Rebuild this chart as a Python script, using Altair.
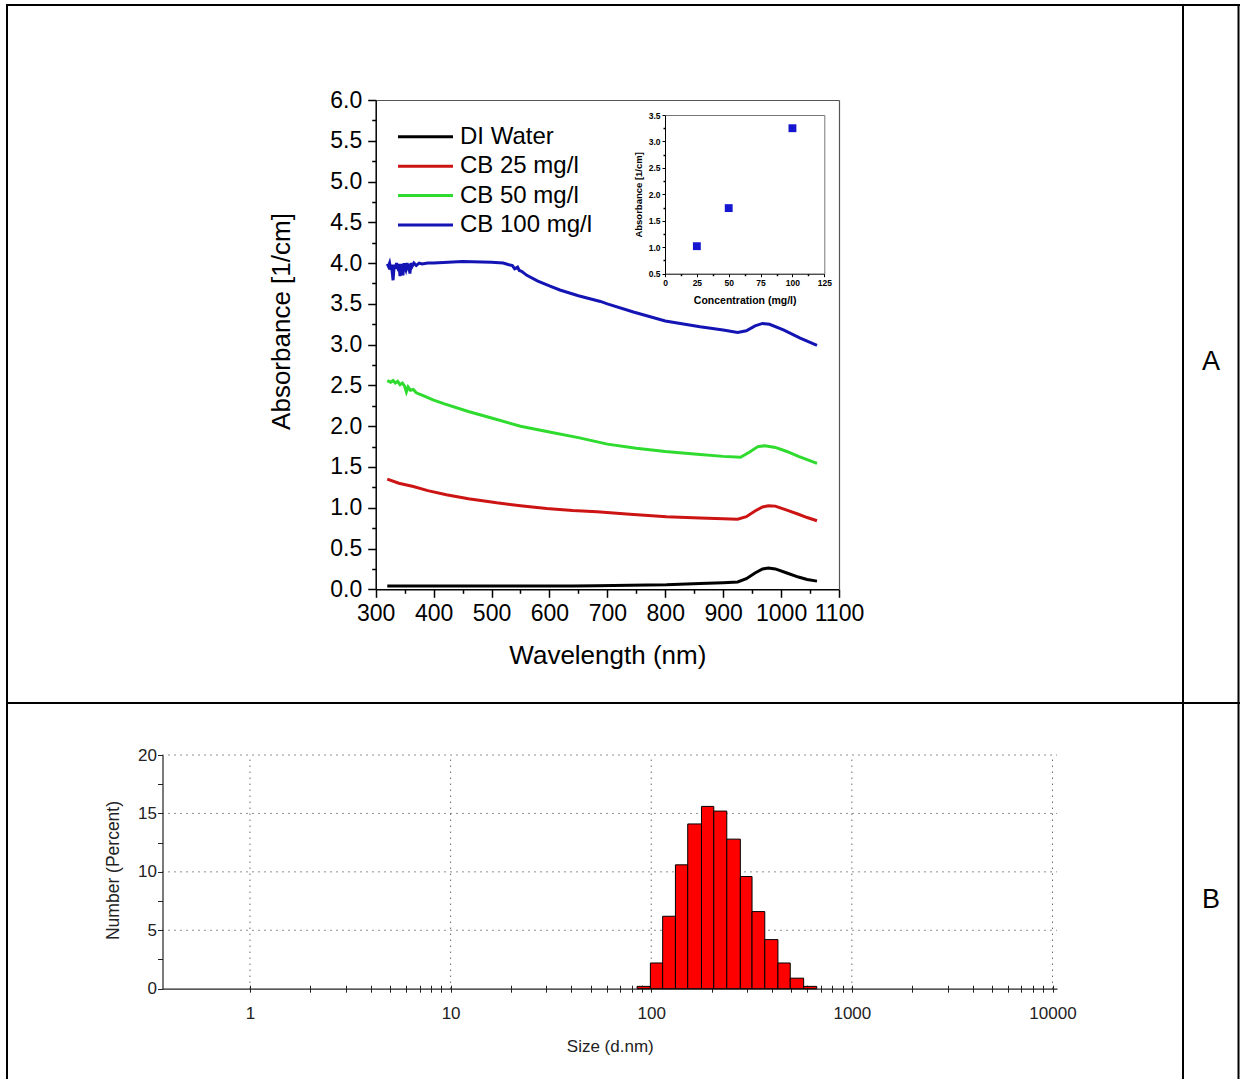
import altair as alt
import pandas as pd

W, H = 1240, 1079
FONT = "Liberation Sans"

# ---------------- Panel A : absorbance spectra ----------------
series_names = ["DI Water", "CB 25 mg/l", "CB 50 mg/l", "CB 100 mg/l"]
series_colors = ["#000000", "#cc1414", "#2edb2e", "#1414b4"]

wl_di = [320, 340, 365, 390, 422, 460, 509, 550, 595, 640, 682, 739, 802, 860,
         900, 925, 940, 955, 968, 978, 990, 1010, 1030, 1045, 1062]
abs_di = [0.04, 0.04, 0.04, 0.04, 0.04, 0.04, 0.04, 0.04, 0.04, 0.042, 0.044, 0.05,
          0.055, 0.07, 0.08, 0.09, 0.13, 0.2, 0.25, 0.26, 0.25, 0.2, 0.15, 0.12, 0.1]

wl_cb25 = [320, 340, 365, 390, 422, 460, 509, 550, 595, 640, 682, 739, 802, 860,
           900, 925, 940, 955, 968, 978, 990, 1010, 1030, 1045, 1062]
abs_cb25 = [1.35, 1.30, 1.26, 1.21, 1.16, 1.11, 1.06, 1.025, 0.99, 0.965, 0.95, 0.92,
            0.89, 0.875, 0.865, 0.86, 0.89, 0.96, 1.01, 1.025, 1.02, 0.97, 0.92, 0.88, 0.84]

wl_cb50 = [320, 326, 330, 334, 338, 342, 346, 350, 353, 356, 360, 365, 370, 380, 400,
           420, 460, 500, 550, 600, 650, 700, 750, 800, 850, 900, 930, 945, 960, 972,
           990, 1010, 1030, 1045, 1062]
abs_cb50 = [2.56, 2.54, 2.56, 2.53, 2.55, 2.51, 2.53, 2.49, 2.42, 2.48, 2.44, 2.45, 2.41,
            2.38, 2.32, 2.27, 2.18, 2.1, 2.0, 1.93, 1.86, 1.78, 1.73, 1.69, 1.66, 1.63,
            1.62, 1.68, 1.75, 1.76, 1.74, 1.69, 1.63, 1.59, 1.545]

wl_cb100 = [320, 322, 324, 326, 327, 329, 330, 332, 334, 336, 338, 340, 342, 344, 346,
            347, 349, 351, 352, 354, 356, 358, 359, 361, 363, 366, 370, 375, 380, 390,
            400, 450, 500, 520, 530, 536, 540, 545, 548, 552, 561, 580, 600, 618, 650,
            688, 700, 745, 800, 860, 900, 925, 940, 955, 968, 980, 1004, 1033, 1062]
abs_cb100 = [3.99, 3.96, 4.0, 3.92, 3.98, 3.86, 3.79, 3.98, 3.93, 4.0, 3.95, 3.99, 3.84,
             3.99, 3.9, 3.85, 4.0, 3.94, 3.92, 4.0, 3.95, 3.99, 3.87, 4.0, 3.96, 4.0, 3.97,
             4.0, 3.99, 4.0, 4.0, 4.02, 4.01, 4.0, 3.98, 3.97, 3.93, 3.95, 3.91, 3.9, 3.85,
             3.78, 3.72, 3.67, 3.6, 3.53, 3.5, 3.4, 3.29, 3.22, 3.18, 3.15, 3.17, 3.23,
             3.26, 3.25, 3.18, 3.08, 2.99]

wl_ticks_major = [300, 400, 500, 600, 700, 800, 900, 1000, 1100]
wl_ticks_minor = [350, 450, 550, 650, 750, 850, 950, 1050]
abs_ticks_major = [0.0, 0.5, 1.0, 1.5, 2.0, 2.5, 3.0, 3.5, 4.0, 4.5, 5.0, 5.5, 6.0]
abs_ticks_minor = [0.25, 0.75, 1.25, 1.75, 2.25, 2.75, 3.25, 3.75, 4.25, 4.75, 5.25, 5.75]

# inset: absorbance vs concentration
conc = [25, 50, 100]
conc_abs = [1.02, 1.74, 3.25]
conc_ticks = [0, 25, 50, 75, 100, 125]
conc_ticks_minor = [12.5, 37.5, 62.5, 87.5, 112.5]
inset_abs_ticks = [0.5, 1.0, 1.5, 2.0, 2.5, 3.0, 3.5]
inset_abs_ticks_minor = [0.75, 1.25, 1.75, 2.25, 2.75, 3.25]

# ---------------- Panel B : size distribution ----------------
size_lo = [85, 99, 114, 132, 152, 178, 205, 238, 278, 318, 368, 428, 493, 575]
size_hi = [99, 114, 132, 152, 178, 205, 238, 278, 318, 368, 428, 493, 575, 668]
number_pct = [0.2, 2.2, 6.2, 10.6, 14.1, 15.6, 15.2, 12.8, 9.6, 6.6, 4.2, 2.2, 0.9, 0.2]
grid_x = [1, 10, 100, 1000, 10000]
grid_y = [5, 10, 15, 20]
pct_ticks = [0, 2.5, 5, 7.5, 10, 12.5, 15, 17.5, 20]
size_ticks = [m * 10 ** k for k in range(0, 4) for m in range(1, 10)] + [10000]

# ---------------- data frames ----------------
rows = []
for name, wls, vals in zip(series_names, [wl_di, wl_cb25, wl_cb50, wl_cb100],
                           [abs_di, abs_cb25, abs_cb50, abs_cb100]):
    for w, v in zip(wls, vals):
        rows.append({"series": name, "wl": w, "abs": v})
df_lines = pd.DataFrame(rows)
df_leg = pd.DataFrame({"series": series_names})
df_inset = pd.DataFrame({"conc": conc, "abs": conc_abs})
df_hist = pd.DataFrame({"lo": size_lo, "hi": size_hi, "pct": number_pct})
df_gx = pd.DataFrame({"gx": grid_x})
df_gy = pd.DataFrame({"gy": grid_y})
one = pd.DataFrame({"k": [0]})

# ---------------- scales (pixel ranges place each panel) ----------------
A_X0, A_X1, A_Y0, A_Y1 = 375.7, 839.0, 589.3, 100.0
I_X0, I_X1, I_Y0, I_Y1 = 665.0, 824.3, 273.7, 115.0
B_X0, B_X1, B_Y0, B_Y1 = 162.5, 1057.0, 988.7, 755.0

xA = alt.Scale(domain=[300, 1100], range=[A_X0, A_X1], nice=False, zero=False)
yA = alt.Scale(domain=[0, 6], range=[A_Y0, A_Y1], nice=False, zero=False)
xI = alt.Scale(domain=[0, 125], range=[I_X0, I_X1], nice=False, zero=False)
yI = alt.Scale(domain=[0.5, 3.5], range=[I_Y0, I_Y1], nice=False, zero=False)
xB = alt.Scale(type="log", domain=[0.3664, 10530], range=[B_X0, B_X1], nice=False)
yB = alt.Scale(domain=[0, 20], range=[B_Y0, B_Y1], nice=False, zero=False)
cA = alt.Scale(domain=series_names, range=series_colors)


def blank_axis(orient, offset, values=None, tick=0, domain=False, color="black", dw=1.0):
    kw = dict(orient=orient, offset=offset, labels=False, title=None, grid=False,
              domain=domain, domainColor=color, domainWidth=dw,
              ticks=tick > 0, tickColor="black", tickWidth=1.5)
    if tick > 0:
        kw["tickSize"] = tick
    if values is not None:
        kw["values"] = values
    return alt.Axis(**kw)


# ---- Panel A main plot ----
a_lines = alt.Chart(df_lines).mark_line(strokeWidth=3).encode(
    x=alt.X("wl:Q", scale=xA, axis=alt.Axis(
        orient="bottom", offset=A_Y0 - H, values=wl_ticks_major, format="d",
        tickSize=8, tickWidth=1.5, tickColor="black", domainColor="black", domainWidth=1.5,
        labelFont=FONT, labelFontSize=23, labelColor="black", labelBaseline="middle",
        labelPadding=16, labelFlush=False, labelOverlap=False,
        title="Wavelength (nm)", titleFont=FONT, titleFontSize=26, titleFontWeight="normal",
        titleColor="black", titleBaseline="middle", titleY=66, grid=False)),
    y=alt.Y("abs:Q", scale=yA, axis=alt.Axis(
        orient="left", offset=-A_X0, values=abs_ticks_major, format=".1f",
        tickSize=8, tickWidth=1.5, tickColor="black", domainColor="black", domainWidth=1.5,
        labelFont=FONT, labelFontSize=23, labelColor="black", labelBaseline="middle",
        labelPadding=6, labelFlush=False, labelOverlap=False,
        title="Absorbance [1/cm]", titleFont=FONT, titleFontSize=26, titleFontWeight="normal",
        titleColor="black", titleAngle=270, titleBaseline="middle", titleX=-94, titleY=321,
        grid=False)),
    color=alt.Color("series:N", scale=cA, legend=None),
    detail="series:N",
)

a_minor = alt.Chart(df_lines).mark_point(opacity=0).encode(
    x=alt.X("wl:Q", scale=xA, axis=blank_axis("bottom", A_Y0 - H, wl_ticks_minor, 4)),
    y=alt.Y("abs:Q", scale=yA, axis=blank_axis("left", -A_X0, abs_ticks_minor, 4)),
)

a_frame = alt.Chart(df_lines).mark_point(opacity=0).encode(
    x=alt.X("wl:Q", scale=xA, axis=blank_axis("top", -A_Y1, [], 0, True, "#555555", 1.2)),
    y=alt.Y("abs:Q", scale=yA, axis=blank_axis("right", A_X1 - W, [], 0, True, "#555555", 1.2)),
)

# legend drawn from the series list
leg_y = alt.Scale(type="point", domain=series_names, range=[136.7, 225], padding=0)
a_leg_lines = alt.Chart(df_leg).mark_rule(strokeWidth=3).encode(
    x=alt.value(398), x2=alt.value(453),
    y=alt.Y("series:N", scale=leg_y, axis=None),
    color=alt.Color("series:N", scale=cA, legend=None),
)
a_leg_text = alt.Chart(df_leg).mark_text(
    align="left", baseline="middle", font=FONT, fontSize=24, color="black").encode(
    x=alt.value(460),
    y=alt.Y("series:N", scale=leg_y, axis=None),
    text="series:N",
)

# ---- inset ----
i_points = alt.Chart(df_inset).mark_square(size=62, color="#1616d0", opacity=1).encode(
    x=alt.X("conc:Q", scale=xI, axis=alt.Axis(
        orient="bottom", offset=I_Y0 - H, values=conc_ticks, format="d",
        tickSize=3, tickColor="black", domainColor="black", domainWidth=1,
        labelFont=FONT, labelFontSize=8.5, labelFontWeight="bold", labelColor="black",
        labelBaseline="middle", labelPadding=6, labelFlush=False, labelOverlap=False,
        title="Concentration (mg/l)", titleFont=FONT, titleFontSize=10.5,
        titleFontWeight="bold", titleColor="black", titleBaseline="middle", titleY=27,
        grid=False)),
    y=alt.Y("abs:Q", scale=yI, axis=alt.Axis(
        orient="left", offset=-I_X0, values=inset_abs_ticks, format=".1f",
        tickSize=3, tickColor="black", domainColor="black", domainWidth=1,
        labelFont=FONT, labelFontSize=8.5, labelFontWeight="bold", labelColor="black",
        labelBaseline="middle", labelPadding=2, labelFlush=False, labelOverlap=False,
        title="Absorbance [1/cm]", titleFont=FONT, titleFontSize=9.5, titleFontWeight="bold",
        titleColor="black", titleAngle=270, titleBaseline="middle", titleX=-27,
        grid=False)),
)
i_minor = alt.Chart(df_inset).mark_point(opacity=0).encode(
    x=alt.X("conc:Q", scale=xI, axis=blank_axis("bottom", I_Y0 - H, conc_ticks_minor, 2)),
    y=alt.Y("abs:Q", scale=yI, axis=blank_axis("left", -I_X0, inset_abs_ticks_minor, 2)),
)
i_frame = alt.Chart(df_inset).mark_point(opacity=0).encode(
    x=alt.X("conc:Q", scale=xI, axis=blank_axis("top", -I_Y1, [], 0, True, "#777777", 1)),
    y=alt.Y("abs:Q", scale=yI, axis=blank_axis("right", I_X1 - W, [], 0, True, "#777777", 1)),
)

# ---- Panel B histogram ----
GRID = dict(color="#222222", strokeWidth=1, strokeDash=[1, 5])
b_gridx = alt.Chart(df_gx).mark_rule(**GRID).encode(
    x=alt.X("gx:Q", scale=xB, axis=None),
    y=alt.Y(datum=0, type="quantitative", scale=yB, axis=None),
    y2=alt.Y2(datum=20),
)
b_gridy = alt.Chart(df_gy).mark_rule(**GRID).encode(
    y=alt.Y("gy:Q", scale=yB, axis=None),
    x=alt.X(datum=0.3664, type="quantitative", scale=xB, axis=None),
    x2=alt.X2(datum=10530),
)
decade_expr = ("datum.value == 1 || datum.value == 10 || datum.value == 100 || "
               "datum.value == 1000 || datum.value == 10000 ? format(datum.value, 'd') : ''")
b_bars = alt.Chart(df_hist).mark_rect(color="#ff0000", stroke="#000000", strokeWidth=1).encode(
    x=alt.X("lo:Q", scale=xB, axis=alt.Axis(
        orient="bottom", offset=B_Y0 - 3.5 - H, values=size_ticks, labelExpr=decade_expr,
        tickSize=7, tickColor="#222222", tickWidth=1, domain=False,
        labelFont=FONT, labelFontSize=17, labelColor="#222222", labelBaseline="middle",
        labelPadding=21, labelFlush=False, labelOverlap=False,
        title="Size (d.nm)", titleFont=FONT, titleFontSize=17, titleFontWeight="normal",
        titleColor="#222222", titleBaseline="middle", titleY=61, grid=False)),
    x2="hi:Q",
    y=alt.Y("pct:Q", scale=yB, axis=alt.Axis(
        orient="left", offset=-B_X0, values=pct_ticks,
        labelExpr="datum.value % 5 == 0 ? format(datum.value, 'd') : ''",
        tickSize=5, tickColor="#222222", tickWidth=1, domainColor="#222222", domainWidth=1.2,
        labelFont=FONT, labelFontSize=17, labelColor="#222222", labelBaseline="middle",
        labelPadding=1, labelFlush=False, labelOverlap=False,
        title="Number (Percent)", titleFont=FONT, titleFontSize=17.5, titleFontWeight="normal",
        titleColor="#222222", titleAngle=270, titleBaseline="middle", titleX=-49.5,
        titleY=870, grid=False)),
    y2=alt.Y2(datum=0),
)
b_base = alt.Chart(df_hist).mark_point(opacity=0).encode(
    x=alt.X("lo:Q", scale=xB, axis=blank_axis("bottom", B_Y0 - H, [], 0, True, "#222222", 1.2)),
    y=alt.Y("pct:Q", scale=yB, axis=None),
)

# ---- table frame and row labels ----
RULE = dict(color="black", strokeWidth=2)
t_rules = [
    alt.Chart(one).mark_rule(**RULE).encode(x=alt.value(6), x2=alt.value(W), y=alt.value(5)),
    alt.Chart(one).mark_rule(**RULE).encode(x=alt.value(6), x2=alt.value(W), y=alt.value(703)),
    alt.Chart(one).mark_rule(**RULE).encode(x=alt.value(7), y=alt.value(4), y2=alt.value(H)),
    alt.Chart(one).mark_rule(**RULE).encode(x=alt.value(1183), y=alt.value(4), y2=alt.value(H)),
    alt.Chart(one).mark_rule(**RULE).encode(x=alt.value(1238.5), y=alt.value(4), y2=alt.value(H)),
]
row_labels = ["A", "B"]
t_text = [
    alt.Chart(one).mark_text(text=row_labels[0], font=FONT, fontSize=27, color="black",
                             align="center", baseline="middle").encode(
        x=alt.value(1211), y=alt.value(362)),
    alt.Chart(one).mark_text(text=row_labels[1], font=FONT, fontSize=27, color="black",
                             align="center", baseline="middle").encode(
        x=alt.value(1211), y=alt.value(900)),
]

layers = ([b_gridx, b_gridy, b_bars, b_base,
           a_frame, a_minor, a_lines, a_leg_lines, a_leg_text,
           i_frame, i_minor, i_points] + t_rules + t_text)

chart = alt.layer(*layers).resolve_scale(
    x="independent", y="independent", color="independent"
).resolve_axis(
    x="independent", y="independent"
).properties(
    width=W, height=H, padding=0,
    autosize=alt.AutoSizeParams(type="none"),
    background="white",
).configure_view(stroke=None)

chart.save("out.html", embed_options={"renderer": "svg", "actions": False})
